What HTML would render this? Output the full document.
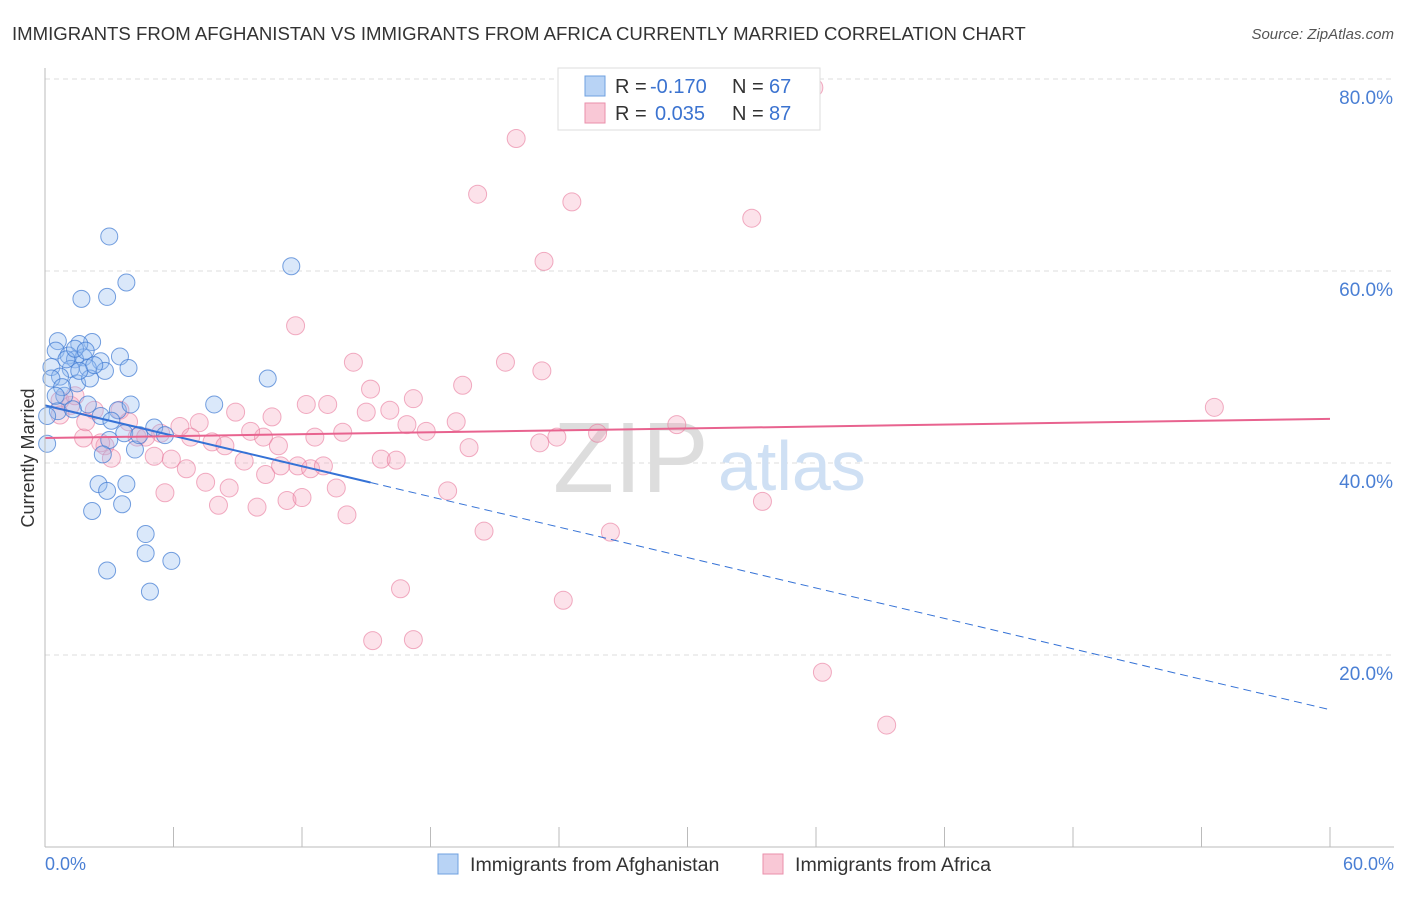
<!DOCTYPE html>
<html><head><meta charset="utf-8"><style>
body{margin:0;background:#fff;font-family:"Liberation Sans",sans-serif;}
svg text{font-family:"Liberation Sans",sans-serif;}
</style></head><body>
<svg width="1406" height="892" xmlns="http://www.w3.org/2000/svg">
<text x="12" y="40" font-size="18.6" fill="#333">IMMIGRANTS FROM AFGHANISTAN VS IMMIGRANTS FROM AFRICA CURRENTLY MARRIED CORRELATION CHART</text>
<text x="1394" y="39" font-size="15" fill="#555" text-anchor="end" font-style="italic">Source: ZipAtlas.com</text>
<g id="grid"></g>
<text x="553" y="492" font-size="100" fill="#ddd" font-family="Liberation Serif">ZIP</text>
<text x="718" y="490" font-size="70" fill="#cfe0f4">atlas</text>
<g id="pts"></g>
<g id="lines"></g>
<line x1="45" y1="68" x2="45" y2="847" stroke="#bbb"/>
<line x1="45" y1="847" x2="1394" y2="847" stroke="#bbb"/>
<g id="ticks"></g>
<text x="34" y="458" font-size="18" fill="#333" text-anchor="middle" transform="rotate(-90 34 458)">Currently Married</text>
<text x="45" y="870" font-size="18" fill="#4a7fd4">0.0%</text>
<text x="1394" y="870" font-size="18" fill="#4a7fd4" text-anchor="end">60.0%</text>
<g>
<rect x="558" y="68" width="262" height="62" fill="#fff" stroke="#ddd"/>
<rect x="585" y="76" width="20" height="20" fill="#b8d3f5" stroke="#6fa0e0"/>
<rect x="585" y="103" width="20" height="20" fill="#f9c8d6" stroke="#ea8fab"/>
<text x="615" y="93" font-size="20" fill="#333">R =</text>
<text x="650" y="93" font-size="20" fill="#3b73d0">-0.170</text>
<text x="732" y="93" font-size="20" fill="#333">N =</text>
<text x="769" y="93" font-size="20" fill="#3b73d0">67</text>
<text x="615" y="120" font-size="20" fill="#333">R =</text>
<text x="655" y="120" font-size="20" fill="#3b73d0">0.035</text>
<text x="732" y="120" font-size="20" fill="#333">N =</text>
<text x="769" y="120" font-size="20" fill="#3b73d0">87</text>
</g>
<g>
<rect x="438" y="854" width="20" height="20" fill="#b8d3f5" stroke="#6fa0e0"/>
<text x="470" y="871" font-size="19.6" fill="#333">Immigrants from Afghanistan</text>
<rect x="763" y="854" width="20" height="20" fill="#f9c8d6" stroke="#ea8fab"/>
<text x="795" y="871" font-size="19.6" fill="#333">Immigrants from Africa</text>
</g>
</svg>
<script>
const yTicks=[20,40,60,80];
const yTickLabels=["20.0%","40.0%","60.0%","80.0%"];
const afgX=[3.0,11.5,3.8,1.7,2.9,0.6,2.2,1.6,0.5,3.5,1.1,1.8,1.4,2.6,3.9,0.3,1.2,2.0,0.7,1.5,10.4,0.3,7.9,2.0,3.4,2.6,0.6,0.1,5.1,3.7,5.6,3.0,4.2,2.7,0.1,2.5,3.8,2.9,3.6,2.2,4.7,4.7,5.9,2.9,4.9,0.9,1.3,2.1,0.8,0.5,1.6,2.8,2.3,3.1,4.4,4.0,1.0,1.4,1.9];
const afgY=[63.6,60.5,58.8,57.1,57.3,52.7,52.6,52.4,51.7,51.1,51.2,51.0,50.8,50.6,49.9,50.0,49.8,49.9,49.0,48.3,48.8,48.8,46.1,46.1,45.5,44.9,45.4,44.9,43.7,43.1,42.9,42.4,41.4,40.9,42.0,37.8,37.8,37.1,35.7,35.0,32.6,30.6,29.8,28.8,26.6,47.0,45.6,48.8,47.9,47.0,49.6,49.6,50.2,44.4,42.9,46.1,50.8,51.9,51.7];
const afrX=[35.9,22.0,20.2,24.6,33.0,23.3,11.7,14.4,21.5,23.2,19.5,15.2,17.2,13.2,16.1,15.0,12.2,8.9,10.6,7.2,6.3,19.2,16.9,17.8,13.9,12.6,10.2,7.8,8.4,10.9,5.4,23.9,25.8,29.5,54.6,1.8,2.8,4.3,5.1,5.9,6.6,9.3,11.8,12.4,13.0,15.7,16.4,19.8,10.3,11.0,7.5,8.6,5.6,8.1,9.9,11.3,12.0,13.6,14.1,18.8,20.5,26.4,33.5,16.6,24.2,15.3,17.2,36.3,39.3,0.7,1.2,2.3,3.5,1.4,2.6,3.1,0.7,3.9,1.9,23.1,9.6,4.7,6.8];
const afrY=[79.1,73.8,68.0,67.2,65.5,61.0,54.3,50.5,50.5,49.6,48.1,47.7,46.7,46.1,45.5,45.3,46.1,45.3,44.8,44.2,43.8,44.3,44.0,43.3,43.2,42.7,42.7,42.2,41.8,41.8,43.1,42.7,43.1,44.0,45.8,42.6,41.8,42.7,40.7,40.4,39.4,40.2,39.7,39.4,39.7,40.4,40.3,41.6,38.8,39.7,38.0,37.4,36.9,35.6,35.4,36.1,36.4,37.4,34.6,37.1,32.9,32.8,36.0,26.9,25.7,21.5,21.6,18.2,12.7,46.5,46.0,45.5,45.5,47.0,42.1,40.5,45.0,44.3,44.3,42.1,43.3,42.7,42.7];
const afgTrend=[46.0,14.3], afrTrend=[42.6,44.6];
const NS='http://www.w3.org/2000/svg';
const X=v=>45+v/60*1285, Y=v=>847-v/20*192;
function mk(t,a,p){const e=document.createElementNS(NS,t);for(const k in a)e.setAttribute(k,a[k]);p.appendChild(e);return e;}
const grid=document.getElementById('grid');
yTicks.forEach((t,i)=>{
 const l=mk('line',{x1:45,x2:1394,y1:Y(t),y2:Y(t),stroke:'#ddd','stroke-dasharray':'5,4'},grid);
 
 
 const tx=mk('text',{x:1393,y:Y(t)+25,'font-size':19,fill:'#4a7fd4','text-anchor':'end'},grid);
 tx.textContent=yTickLabels[i];
 
 
});
const tk=document.getElementById('ticks');
for(let i=0;i<=10;i++){const l=mk('line',{x1:X(i*6),x2:X(i*6),y1:827,y2:847,stroke:'#bbb'},tk);
 
 }
const pts=document.getElementById('pts');
afrX.forEach((x,i)=>{const c=mk('circle',{cx:X(x),cy:Y(afrY[i]),r:9,fill:'rgba(244,160,186,0.3)',stroke:'rgba(232,120,155,0.6)','stroke-width':1},pts);
 
 });
afgX.forEach((x,i)=>{const c=mk('circle',{cx:X(x),cy:Y(afgY[i]),r:8.5,fill:'rgba(150,190,240,0.35)',stroke:'rgba(60,120,210,0.7)','stroke-width':1},pts);
 
 });
const ln=document.getElementById('lines');
const at=(tr,x)=>tr[0]+(tr[1]-tr[0])*x/60;
let a=mk('line',{x1:X(0),y1:Y(at(afgTrend,0)),x2:X(15.2),y2:Y(at(afgTrend,15.2)),stroke:'#3572d6','stroke-width':2},ln);


let b=mk('line',{x1:X(15.2),y1:Y(at(afgTrend,15.2)),x2:X(60),y2:Y(at(afgTrend,60)),stroke:'#3572d6','stroke-width':1,'stroke-dasharray':'8,5'},ln);


let c=mk('line',{x1:X(0),y1:Y(afrTrend[0]),x2:X(60),y2:Y(afrTrend[1]),stroke:'#e8638f','stroke-width':2},ln);


</script>
</body></html>
